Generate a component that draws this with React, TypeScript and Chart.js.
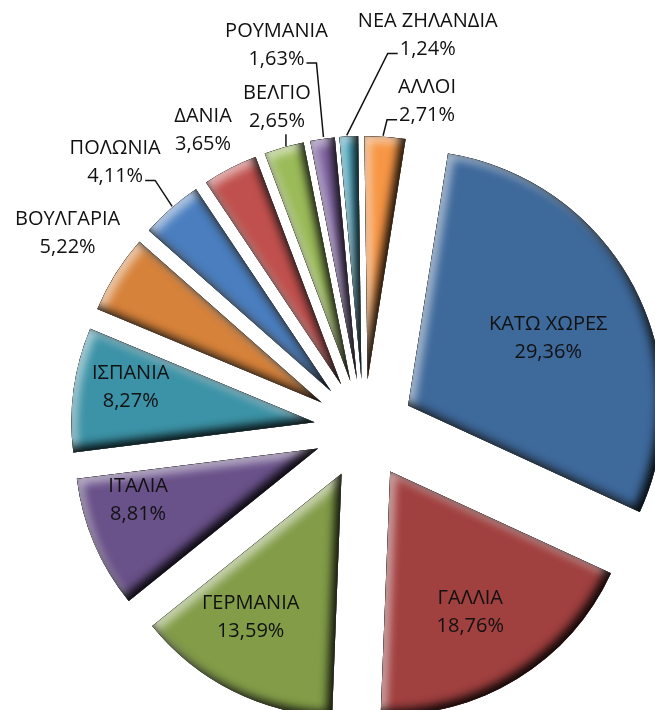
import React, { useEffect, useRef } from 'react';
import { Chart, registerables } from 'chart.js';

Chart.register(...registerables);

// ---------- data ----------
const countries = [
  'ΚΑΤΩ ΧΩΡΕΣ',
  'ΓΑΛΛΙΑ',
  'ΓΕΡΜΑΝΙΑ',
  'ΙΤΑΛΙΑ',
  'ΙΣΠΑΝΙΑ',
  'ΒΟΥΛΓΑΡΙΑ',
  'ΠΟΛΩΝΙΑ',
  'ΔΑΝΙΑ',
  'ΒΕΛΓΙΟ',
  'ΡΟΥΜΑΝΙΑ',
  'ΝΕΑ ΖΗΛΑΝΔΙΑ',
  'ΑΛΛΟΙ',
];
const shares = [29.36, 18.76, 13.59, 8.81, 8.27, 5.22, 4.11, 3.65, 2.65, 1.63, 1.24, 2.71];
const percentLabels = shares.map((v) => v.toFixed(2).replace('.', ',') + '%');

// ---------- styles ----------
const sliceColors = [
  '#3e699b',
  '#a0403f',
  '#829c48',
  '#695189',
  '#3c92a6',
  '#d6823a',
  '#4a7ebf',
  '#c0504d',
  '#9bbb59',
  '#8064a2',
  '#4bacc6',
  '#f79646',
];

const RADIUS = 243;
const EXPLODE = 50;
const FONT = '20px "Open Sans", "Noto Sans", sans-serif';
const TEXT_COLOR = '#111';
const LINE_GAP = 28;
// the first slice is drawn slightly larger in the reference
const radiusBoost: Record<number, number> = { 0: 12 };

// label layout: inside labels use depth (fraction of radius) and an angular turn (deg)
const insideLayout: Record<number, { depth: number; turn: number }> = {
  0: { depth: 0.61, turn: 2.4 },
  1: { depth: 0.665, turn: 1.8 },
  2: { depth: 0.7, turn: 5.6 },
  3: { depth: 0.77, turn: 7 },
  4: { depth: 0.77, turn: 3.1 },
};
// outside labels: offset of the percentage line's centre from the slice's outer mid point
const outsideLayout: Record<number, { dx: number; dy: number; leader: 'none' | 'vertical' | 'left' | 'right' }> = {
  5: { dx: -48, dy: -26, leader: 'none' },
  6: { dx: -56, dy: -32, leader: 'left' },
  7: { dx: -27, dy: -24, leader: 'none' },
  8: { dx: -7, dy: -26, leader: 'vertical' },
  9: { dx: -46, dy: -80, leader: 'left' },
  10: { dx: 79, dy: -87, leader: 'right' },
  11: { dx: 42, dy: -21, leader: 'right' },
};

const explodePlugin = {
  id: 'explodeSlices',
  afterDatasetsUpdate(chart: any) {
    const meta = chart.getDatasetMeta(0);
    meta.data.forEach((arc: any, i: number) => {
      const mid = (arc.startAngle + arc.endAngle) / 2;
      arc.x += EXPLODE * Math.cos(mid);
      arc.y += EXPLODE * Math.sin(mid);
      if (radiusBoost[i]) arc.outerRadius += radiusBoost[i];
    });
  },
};

function innerShadow(ctx: CanvasRenderingContext2D, path: Path2D, color: string, blur: number, ox: number, oy: number) {
  ctx.save();
  ctx.clip(path);
  ctx.shadowColor = color;
  ctx.shadowBlur = blur;
  ctx.shadowOffsetX = ox;
  ctx.shadowOffsetY = oy;
  const outer = new Path2D();
  outer.rect(-2000, -2000, 5000, 5000);
  outer.addPath(path);
  ctx.fillStyle = '#000';
  ctx.fill(outer, 'evenodd');
  ctx.restore();
}

const bevelPlugin = {
  id: 'bevel',
  afterDatasetsDraw(chart: any) {
    const ctx: CanvasRenderingContext2D = chart.ctx;
    chart.getDatasetMeta(0).data.forEach((arc: any) => {
      const p = new Path2D();
      p.moveTo(arc.x, arc.y);
      p.arc(arc.x, arc.y, arc.outerRadius, arc.startAngle, arc.endAngle);
      p.closePath();
      innerShadow(ctx, p, 'rgba(255,255,255,0.6)', 10, 5, 5);
      innerShadow(ctx, p, 'rgba(0,0,0,0.9)', 10, -5, -5);
    });
  },
};

const labelPlugin = {
  id: 'sliceLabels',
  afterDraw(chart: any) {
    const ctx: CanvasRenderingContext2D = chart.ctx;
    const arcs = chart.getDatasetMeta(0).data;
    ctx.save();
    ctx.font = FONT;
    ctx.fillStyle = TEXT_COLOR;
    ctx.strokeStyle = '#111';
    ctx.lineWidth = 1.5;
    ctx.textAlign = 'center';
    ctx.textBaseline = 'middle';
    arcs.forEach((arc: any, i: number) => {
      const mid = (arc.startAngle + arc.endAngle) / 2;
      if (insideLayout[i]) {
        const { depth, turn } = insideLayout[i];
        const a = mid + (turn * Math.PI) / 180;
        const cx = arc.x + depth * arc.outerRadius * Math.cos(a);
        const cy = arc.y + depth * arc.outerRadius * Math.sin(a);
        ctx.fillText(countries[i], cx, cy - LINE_GAP / 2);
        ctx.fillText(percentLabels[i], cx, cy + LINE_GAP / 2);
        return;
      }
      const lay = outsideLayout[i];
      if (!lay) return;
      const px = arc.x + arc.outerRadius * Math.cos(mid);
      const py = arc.y + arc.outerRadius * Math.sin(mid);
      const tx = px + lay.dx;
      const ty = py + lay.dy;
      ctx.fillText(countries[i], tx, ty - LINE_GAP);
      ctx.fillText(percentLabels[i], tx, ty);
      const w = ctx.measureText(percentLabels[i]).width;
      ctx.beginPath();
      if (lay.leader === 'vertical') {
        ctx.moveTo(px + 2, py - 1);
        ctx.lineTo(px + 2, ty + 13);
      } else if (lay.leader === 'left') {
        const ex = tx + w / 2 + 2;
        const ey = ty + 4;
        ctx.moveTo(px + 1, py - 2);
        ctx.lineTo(ex + 10, ey);
        ctx.lineTo(ex, ey);
      } else if (lay.leader === 'right') {
        const ex = tx - w / 2 - 2;
        const ey = ty + 4;
        ctx.moveTo(px - 2, py - 1);
        ctx.lineTo(ex - 10, ey);
        ctx.lineTo(ex, ey);
      }
      ctx.stroke();
    });
    ctx.restore();
  },
};

export default function App() {
  const canvasRef = useRef<HTMLCanvasElement | null>(null);

  useEffect(() => {
    if (!canvasRef.current) return;
    const chart = new Chart(canvasRef.current, {
      type: 'pie',
      data: {
        labels: countries,
        datasets: [
          {
            data: shares,
            backgroundColor: sliceColors,
            borderWidth: 0,
            clip: false as any,
          },
        ],
      },
      options: {
        responsive: false,
        maintainAspectRatio: false,
        animation: false,
        events: [],
        rotation: 9,
        radius: RADIUS,
        layout: { padding: { left: 73, top: 148, right: 0, bottom: 0 } },
        plugins: {
          legend: { display: false },
          tooltip: { enabled: false },
        },
      } as any,
      plugins: [explodePlugin, bevelPlugin, labelPlugin],
    });
    return () => chart.destroy();
  }, []);

  return (
    <div style={{ position: 'fixed', left: 0, top: 0, width: 655, height: 710, overflow: 'hidden', background: '#fff' }}>
      <canvas ref={canvasRef} width={655} height={710} style={{ display: 'block' }} />
    </div>
  );
}
